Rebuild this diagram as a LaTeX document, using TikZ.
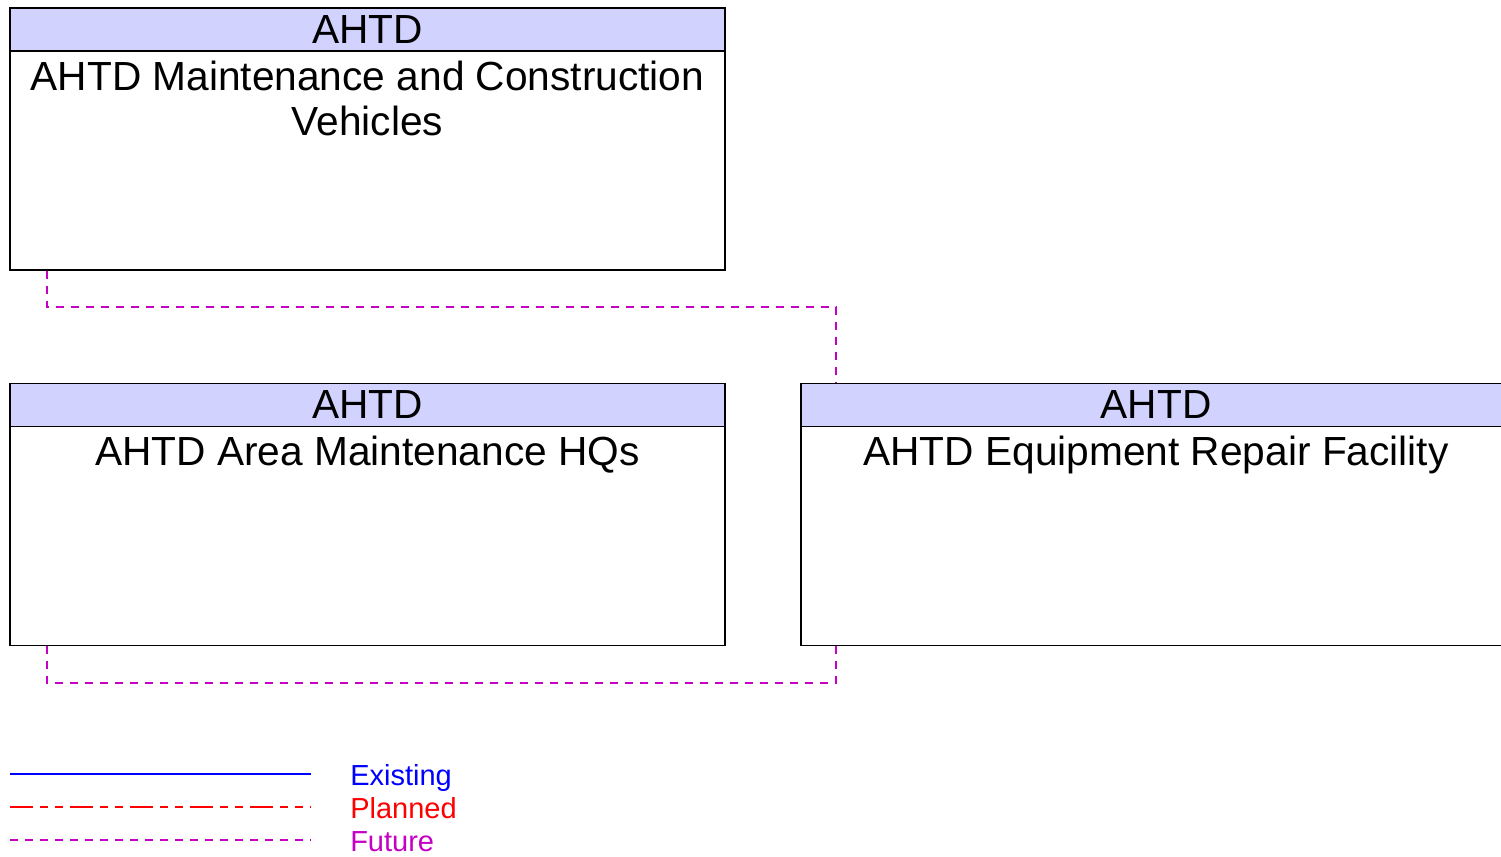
\documentclass[tikz,border=0pt]{standalone}
\usepackage{fontspec}
\setmainfont{Liberation Sans}
\usepackage{xcolor}
\usepackage{tikz}
\usetikzlibrary{calc,positioning}
\definecolor{ArchInk}{HTML}{000000}
\definecolor{ArchHeader}{HTML}{D2D2FF}
\definecolor{ArchExisting}{HTML}{0000FF}
\definecolor{ArchPlanned}{HTML}{FF0000}
\definecolor{ArchFuture}{HTML}{C400C4}

\begin{document}
\begin{tikzpicture}[x=0.75pt,y=-0.75pt,
  elembox/.style={draw=ArchInk,line width=1.1pt,fill=white,inner sep=0pt,
    minimum width=536.25pt,minimum height=196.5pt},
  headbox/.style={draw=ArchInk,line width=1.1pt,fill=ArchHeader,inner sep=0pt,
    minimum height=32.25pt,font=\fontsize{30.5}{33.75}\selectfont},
  nametext/.style={inner sep=0pt,align=center,text=ArchInk,
    font=\fontsize{30.5}{33.75}\selectfont},
  futureline/.style={ArchFuture,line width=1.2pt,dash pattern=on 6pt off 5.25pt},
  plannedline/.style={ArchPlanned,line width=0.9pt,
    dash pattern=on 17.25pt off 5.25pt on 6pt off 5.25pt on 6pt off 5.25pt},
  existline/.style={ArchExisting,line width=2.2pt},
  legendtext/.style={anchor=base west,inner sep=0pt,font=\fontsize{21.75}{24}\selectfont}]
  \useasboundingbox (0,0) rectangle (1501,856);
  % element boxes
  \node[elembox] (mcv) at (367.5,139) {};
  \node[elembox] (amh) at (367.5,514.5) {};
  \node[elembox,minimum width=532.5pt] (erf) at (1156,514.5) {};
  \node[headbox,minimum width=536.25pt,anchor=north] (mcvhead) at (mcv.north) {AHTD};
  \node[headbox,minimum width=536.25pt,anchor=north] (amhhead) at (amh.north) {AHTD};
  \node[headbox,minimum width=532.5pt,anchor=north] (erfhead) at (erf.north) {AHTD};
  \node[nametext,below=6.5pt of mcvhead] (mcvname) {AHTD Maintenance and Construction\\Vehicles};
  \node[nametext,below=6.5pt of amhhead] (amhname) {AHTD Area Maintenance HQs};
  \node[nametext,below=6.5pt of erfhead] (erfname) {AHTD Equipment Repair Facility};
  % flows
  \draw[futureline] ($(mcv.south west)+(38,0)$) -- ++(0,36) -| ($(erfhead.north west)+(36,0)$);
  \draw[futureline] ($(amh.south west)+(38,0)$) -- ++(0,37) -| ($(erf.south west)+(36,0)$);
  % legend
  \foreach \ly/\lstyle/\lname/\lcol in {774/existline/Existing/ArchExisting,
      807/plannedline/Planned/ArchPlanned,840/futureline/Future/ArchFuture}{%
    \coordinate (lg\lname a) at (10,\ly);
    \coordinate (lg\lname b) at (311,\ly);
    \draw[\lstyle] (lg\lname a) -- (lg\lname b);
    \node[legendtext,text=\lcol] (lg\lname) at (350,\ly+11) {\lname};
  }
\end{tikzpicture}
\end{document}
